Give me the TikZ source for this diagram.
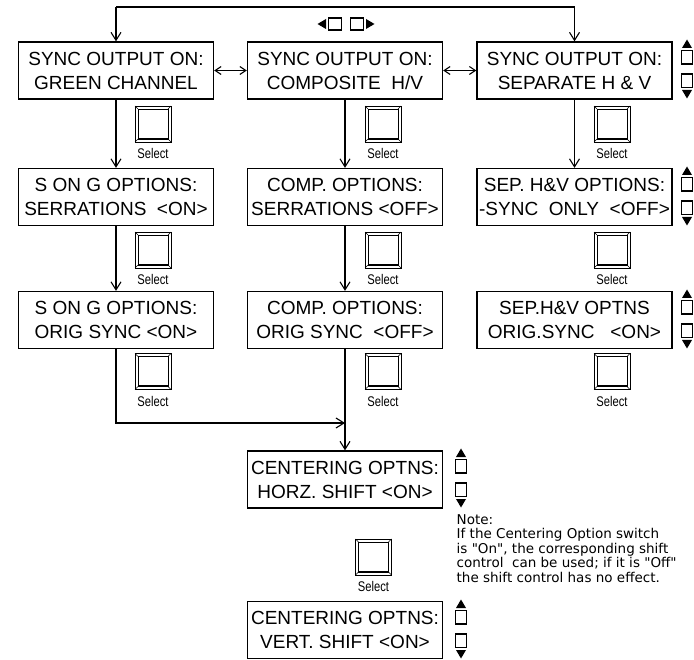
\documentclass[tikz,border=0pt]{standalone}
\usepackage{fontspec}
\setmainfont{Liberation Sans}
\newfontfamily\notefont{DejaVu Sans}
\newfontfamily\narrowfont[FakeStretch=0.8]{Liberation Sans}
\usetikzlibrary{arrows.meta, positioning}
\tikzset{
  menubox/.style={rectangle, draw=black, line width=1.3pt, minimum width=195pt, minimum height=57pt, inner sep=0pt, text centered, align=center, font=\fontsize{19}{24}\selectfont},
  wire/.style={line width=1.1pt},
  flow/.style={wire, -{Straight Barb[length=8pt,width=10pt]}},
  dblflow/.style={wire, {Straight Barb[length=6pt,width=8pt]}-{Straight Barb[length=6pt,width=8pt]}},
  keyframe/.style={line width=1.8pt},
  btnlabel/.style={font=\narrowfont\fontsize{14}{16}\selectfont, inner sep=0pt},
  notetext/.style={font=\notefont\fontsize{13.5}{14.5}\selectfont, align=left, anchor=north west, inner sep=0pt}
}
\newcommand{\selectbutton}[3]{
    \begin{scope}[shift={(#2,#3)}]
        \draw[line width=0.8pt] (-18,-18) rectangle (18,18);
        \draw[line width=0.8pt] (-15,-15) rectangle (15,15);
        \draw[line width=0.5pt] (-18,-18) -- (-15,-15) (18,-18) -- (15,-15) (-18,18) -- (-15,15) (18,18) -- (15,15);
        \draw[line width=2pt] (-15,15) -- (15,15);
        \node[btnlabel] (#1) at (0,29.5) {Select};
    \end{scope}
}
\newcommand{\updownkeys}[2]{
    \begin{scope}[shift={(#1,#2)}]
        \fill (-5,-21) -- (5,-21) -- (0,-29.5) -- cycle;
        \draw[keyframe] (-5.5,-18.5) rectangle (5.5,-5);
        \draw[keyframe] (-5.5,5) rectangle (5.5,18.5);
        \fill (-5,21) -- (5,21) -- (0,29.5) -- cycle;
    \end{scope}
}

\begin{document}
\begin{tikzpicture}[x=1pt, y=-1pt]

    \useasboundingbox (0,0) rectangle (694,660);
    \clip (0,0) rectangle (694,660);

    % 1. Sync output menu
    \node[menubox] (syncG) at (116,70.5) {SYNC OUTPUT ON:\\GREEN CHANNEL};
    \node[menubox] (syncC) at (345,70.5) {SYNC OUTPUT ON:\\COMPOSITE\ \ H/V};
    \node[menubox] (syncS) at (574.5,70.5) {SYNC OUTPUT ON:\\SEPARATE H \& V};

    % left / right keys
    \begin{scope}[shift={(346,24)}]
        \fill (-28.5,0) -- (-20,-5) -- (-20,5) -- cycle;
        \draw[keyframe] (-17.5,-6) rectangle (-4.5,6);
        \draw[keyframe] (4.5,-6) rectangle (17.5,6);
        \fill (28.5,0) -- (20,-5) -- (20,5) -- cycle;
    \end{scope}

    % 2. Options
    \node[menubox] (sogSer) at (116,197) {S ON G OPTIONS:\\SERRATIONS\ \ <ON>};
    \node[menubox] (compSer) at (345,197) {COMP. OPTIONS:\\SERRATIONS <OFF>};
    \node[menubox] (sepSync) at (574.5,197) {SEP. H\&V OPTIONS:\\-SYNC\ \ ONLY\ \ <OFF>};

    \node[menubox] (sogOrig) at (116,320) {S ON G OPTIONS:\\ORIG SYNC <ON>};
    \node[menubox] (compOrig) at (345,320) {COMP. OPTIONS:\\ORIG SYNC\ \ <OFF>};
    \node[menubox] (sepOrig) at (574.5,320) {SEP.H\&V OPTNS\\ORIG.SYNC\ \ \ <ON>};

    % 3. Centering
    \node[menubox] (centH) at (345,479.5) {CENTERING OPTNS:\\HORZ. SHIFT <ON>};
    \node[menubox] (centV) at (345,630) {CENTERING OPTNS:\\VERT. SHIFT <ON>};

    \updownkeys{687}{69}
    \updownkeys{687}{196}
    \updownkeys{687}{319}
    \updownkeys{461}{478}
    \updownkeys{461}{629}

    % Select buttons
    \selectbutton{selG1}{153}{124}
    \selectbutton{selC1}{383}{124}
    \selectbutton{selS1}{612}{124}
    \selectbutton{selG2}{153}{250}
    \selectbutton{selC2}{383}{250}
    \selectbutton{selS2}{612}{250}
    \selectbutton{selG3}{153}{371.5}
    \selectbutton{selC3}{383}{371.5}
    \selectbutton{selS3}{612}{371.5}
    \selectbutton{selH}{373.5}{557}

    \node[notetext] (note) at (456.5,514) {Note:\\If the Centering Option switch\\is "On", the corresponding shift\\control\ \ can be used; if it is "Off"\\the shift control has no effect.};

    % -------------------------------------------------------------
    % Connections
    % -------------------------------------------------------------
    \coordinate (topL) at (116,7);
    \coordinate (topR) at (574.5,7);
    \coordinate (merge) at (345,423);

    \draw[wire] (topL) -- (topR);
    \draw[flow] (topL) -- (syncG.north);
    \draw[flow] (topR) -- (syncS.north);
    \draw[dblflow] (syncG.east) -- (syncC.west);
    \draw[dblflow] (syncC.east) -- (syncS.west);

    \draw[flow] (syncG.south) -- (sogSer.north);
    \draw[flow] (sogSer.south) -- (sogOrig.north);
    \draw[flow] (sogOrig.south) |- (merge);

    \draw[flow] (syncC.south) -- (compSer.north);
    \draw[flow] (compSer.south) -- (compOrig.north);
    \draw[flow] (compOrig.south) -- (centH.north);

    \draw[flow] (syncS.south) -- (sepSync.north);

\end{tikzpicture}
\end{document}
